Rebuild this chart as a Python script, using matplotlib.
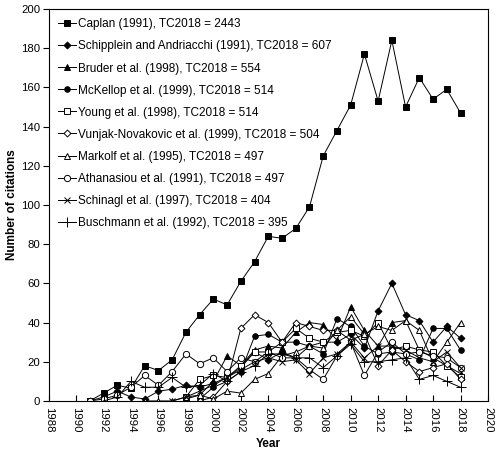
import numpy as np
import matplotlib
matplotlib.use('Agg')
import matplotlib.pyplot as plt

plt.rcParams['font.family'] = ['Liberation Sans', 'DejaVu Sans']

# citations per year, each series starts at its publication year
caplan_years = list(range(1991, 2019))
caplan = [0, 4, 8, 6.5, 18, 15.5, 21, 35, 44, 52, 49, 61, 71, 84, 83, 88, 99, 125,
          138, 151, 177, 153, 184, 150, 165, 154, 159, 147]

schipplein_years = list(range(1991, 2019))
schipplein = [0, 2, 5, 2, 1, 5, 6, 8, 7, 9, 12, 17, 25, 21, 25, 22, 28, 30,
              30, 34, 27, 46, 60, 44, 41, 30, 38, 32]

bruder_years = list(range(1998, 2019))
bruder = [1, 3, 10, 23, 18, 26, 28, 27, 35, 40, 39, 31, 48, 36, 28, 40, 41, 26, 22, 18, 14]

mckellop_years = list(range(1999, 2019))
mckellop = [1, 7, 10, 15, 33, 34, 30, 30, 28, 24, 42, 38, 28, 24, 25, 24, 21, 37, 37, 26]

young_years = list(range(1998, 2019))
young = [2, 11, 13, 12, 18, 25, 25, 30, 37, 32, 30, 35, 36, 33, 40, 26, 28, 26, 25, 18, 12]

vunjak_years = list(range(1999, 2019))
vunjak = [0, 2, 10, 37, 44, 40, 30, 40, 38, 36, 36, 31, 34, 18, 26, 20, 15, 17, 19, 11]

markolf_years = list(range(1995, 2019))
markolf = [0, 0, 0, 2, 3, 1, 5, 4, 11, 14, 23, 25, 28, 27, 36, 43, 34, 38, 36, 41, 36, 20, 30, 40]

athanasiou_years = list(range(1991, 2019))
athanasiou = [0, 1, 3, 7, 13, 8, 15, 24, 19, 22, 15, 22, 20, 25, 22, 22, 16, 11,
              23, 30, 13, 25, 30, 24, 25, 23, 22, 17]

schinagl_years = list(range(1997, 2019))
schinagl = [0, 2, 5, 8, 12, 16, 20, 22, 20, 21, 14, 22, 24, 30, 22, 28, 28, 26, 22, 20, 25, 17]

buschmann_years = list(range(1992, 2019))
buschmann = [0, 2, 10, 7, 7, 12, 7, 8, 14, 10, 15, 18, 24, 24, 22, 22, 17, 23,
             29, 20, 20, 21, 22, 11, 13, 10, 7]

labels = [
    'Caplan (1991), TC2018 = 2443',
    'Schipplein and Andriacchi (1991), TC2018 = 607',
    'Bruder et al. (1998), TC2018 = 554',
    'McKellop et al. (1999), TC2018 = 514',
    'Young et al. (1998), TC2018 = 514',
    'Vunjak-Novakovic et al. (1999), TC2018 = 504',
    'Markolf et al. (1995), TC2018 = 497',
    'Athanasiou et al. (1991), TC2018 = 497',
    'Schinagl et al. (1997), TC2018 = 404',
    'Buschmann et al. (1992), TC2018 = 395',
]

series = [
    (caplan_years, caplan, 's', 'k', 4.5),
    (schipplein_years, schipplein, 'D', 'k', 3.5),
    (bruder_years, bruder, '^', 'k', 4.5),
    (mckellop_years, mckellop, 'o', 'k', 4),
    (young_years, young, 's', 'white', 4.5),
    (vunjak_years, vunjak, 'D', 'white', 3.5),
    (markolf_years, markolf, '^', 'white', 4.5),
    (athanasiou_years, athanasiou, 'o', 'white', 4.5),
    (schinagl_years, schinagl, 'x', 'k', 5),
    (buschmann_years, buschmann, '+', 'k', 7),
]

fig = plt.figure(figsize=(5.01, 4.5), dpi=100)
ax = fig.add_axes([0.097, 0.109, 0.877, 0.871])

for (xs, ys, mk, fc, ms), lab in zip(series, labels):
    ax.plot(xs, ys, marker=mk, color='k', markerfacecolor=fc, markeredgecolor='k',
            markersize=ms, linewidth=0.7, markeredgewidth=0.7, label=lab)

ax.set_xlim(1988, 2020)
ax.set_ylim(0, 200)
ax.set_xticks(np.arange(1988, 2021, 2))
ax.set_yticks(np.arange(0, 201, 20))
ax.tick_params(axis='x', direction='in', length=4, labelsize=8.2, labelrotation=-90, pad=4)
ax.tick_params(axis='y', direction='out', length=4, labelsize=8.2, pad=2)
for s in ax.spines.values():
    s.set_linewidth(0.8)

ax.set_xlabel('Year', fontsize=8.5, fontweight='bold')
ax.set_ylabel('Number of citations', fontsize=8.5, fontweight='bold', labelpad=2)

ax.legend(loc='upper left', frameon=False, fontsize=8.5, handlelength=1.5,
          handletextpad=0.2, labelspacing=0.85, borderaxespad=0.4)

fig.savefig('out.png', dpi=100)
